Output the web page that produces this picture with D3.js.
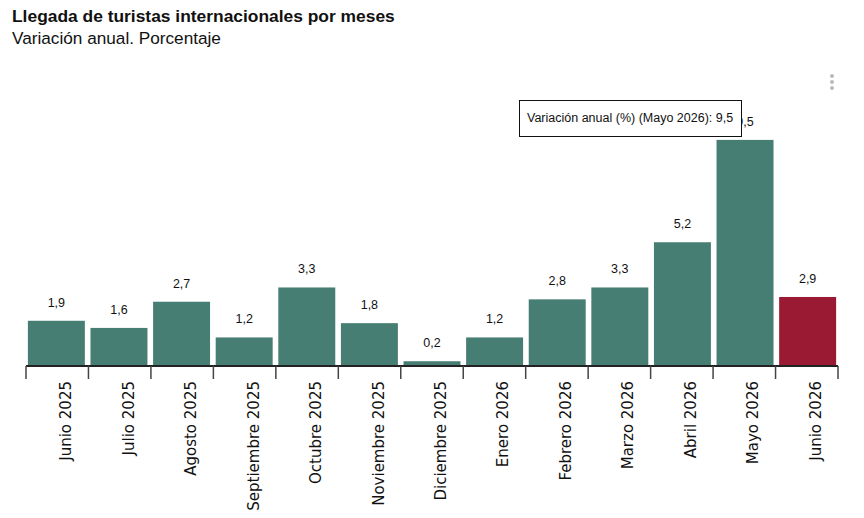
<!DOCTYPE html>
<html lang="es">
<head>
    <meta charset="UTF-8">
    <script src="https://d3js.org/d3.v7.min.js"></script>
    <title>Llegada de turistas</title>
    <style>
        body { margin: 0; background: #fff; }
    </style>
</head>
<body>
    <svg width="864" height="518" id="chart"></svg>
    <script>
        // datos
        var meses = ["Junio 2025", "Julio 2025", "Agosto 2025", "Septiembre 2025", "Octubre 2025",
            "Noviembre 2025", "Diciembre 2025", "Enero 2026", "Febrero 2026", "Marzo 2026",
            "Abril 2026", "Mayo 2026", "Junio 2026"];
        var variacion = [1.9, 1.6, 2.7, 1.2, 3.3, 1.8, 0.2, 1.2, 2.8, 3.3, 5.2, 9.5, 2.9];
        var ultimo = "Junio 2026";
        var tooltipMes = "Mayo 2026";

        let svg = d3.select("#chart");
        let fmt = d => d.toFixed(1).replace(".", ",");

        // titulo
        svg.append("text")
            .attr("x", 12).attr("y", 22)
            .attr("style", "font-family: 'Liberation Sans', Arial, sans-serif; font-weight: bold; font-size: 17.4px; fill: #111")
            .text("Llegada de turistas internacionales por meses");
        svg.append("text")
            .attr("x", 12).attr("y", 44)
            .attr("style", "font-family: 'Liberation Sans', Arial, sans-serif; font-size: 17.2px; fill: #111")
            .text("Variación anual. Porcentaje");

        // escalas
        let left = 26, right = 838, base = 366;
        let x = d3.scaleBand().domain(meses).range([left, right]).paddingInner(0.09).paddingOuter(0.03);
        let xb = d3.scaleBand().domain(meses).range([left, right]).padding(0);
        let y = d3.scaleLinear().domain([0, 10]).range([base, 128]);

        // barras
        svg.selectAll(".bar").data(meses).enter().append("rect")
            .attr("class", "bar")
            .attr("x", d => x(d))
            .attr("width", x.bandwidth())
            .attr("y", (d, i) => y(variacion[i]))
            .attr("height", (d, i) => base - y(variacion[i]))
            .attr("fill", d => d == ultimo ? "#9b1a33" : "#477e74");

        // etiquetas de valor
        svg.selectAll(".val").data(meses).enter().append("text")
            .attr("x", d => x(d) + x.bandwidth() / 2)
            .attr("y", (d, i) => y(variacion[i]) - 14)
            .attr("text-anchor", "middle")
            .attr("style", "font-family: 'Liberation Sans', Arial, sans-serif; font-size: 12.5px; fill: #111")
            .text((d, i) => fmt(variacion[i]));

        // eje x
        svg.append("line")
            .attr("x1", left).attr("x2", right)
            .attr("y1", base).attr("y2", base)
            .attr("style", "stroke: #222; stroke-width: 2");

        let bordes = meses.map(d => xb(d)).concat([right]);
        svg.selectAll(".tick").data(bordes).enter().append("line")
            .attr("x1", d => d).attr("x2", d => d)
            .attr("y1", base).attr("y2", base + 13)
            .attr("style", "stroke: #444; stroke-width: 1.5");

        svg.selectAll(".lab").data(meses).enter().append("text")
            .attr("transform", d => "translate(" + (xb(d) + xb.bandwidth() / 2 + 14) + "," + (base + 15) + ") rotate(-90)")
            .attr("text-anchor", "end")
            .attr("style", "font-family: 'DejaVu Sans', Verdana, sans-serif; font-size: 15px; fill: #111")
            .text(d => d);

        // tooltip (tapa parte de la etiqueta de mayo, como en el original)
        let iT = meses.indexOf(tooltipMes);
        svg.append("rect")
            .attr("x", 519.5).attr("y", 100.5)
            .attr("width", 222).attr("height", 36)
            .attr("fill", "#fff").attr("stroke", "#111").attr("stroke-width", 1);
        svg.append("text")
            .attr("x", 527).attr("y", 122)
            .attr("style", "font-family: 'Liberation Sans', Arial, sans-serif; font-size: 12.5px; fill: #111")
            .text("Variación anual (%) (" + tooltipMes + "): " + fmt(variacion[iT]));

        // menu
        svg.selectAll(".dot").data([76, 82, 88]).enter().append("circle")
            .attr("cx", 832).attr("cy", d => d).attr("r", 2)
            .attr("fill", "#bbb");
    </script>
</body>
</html>
